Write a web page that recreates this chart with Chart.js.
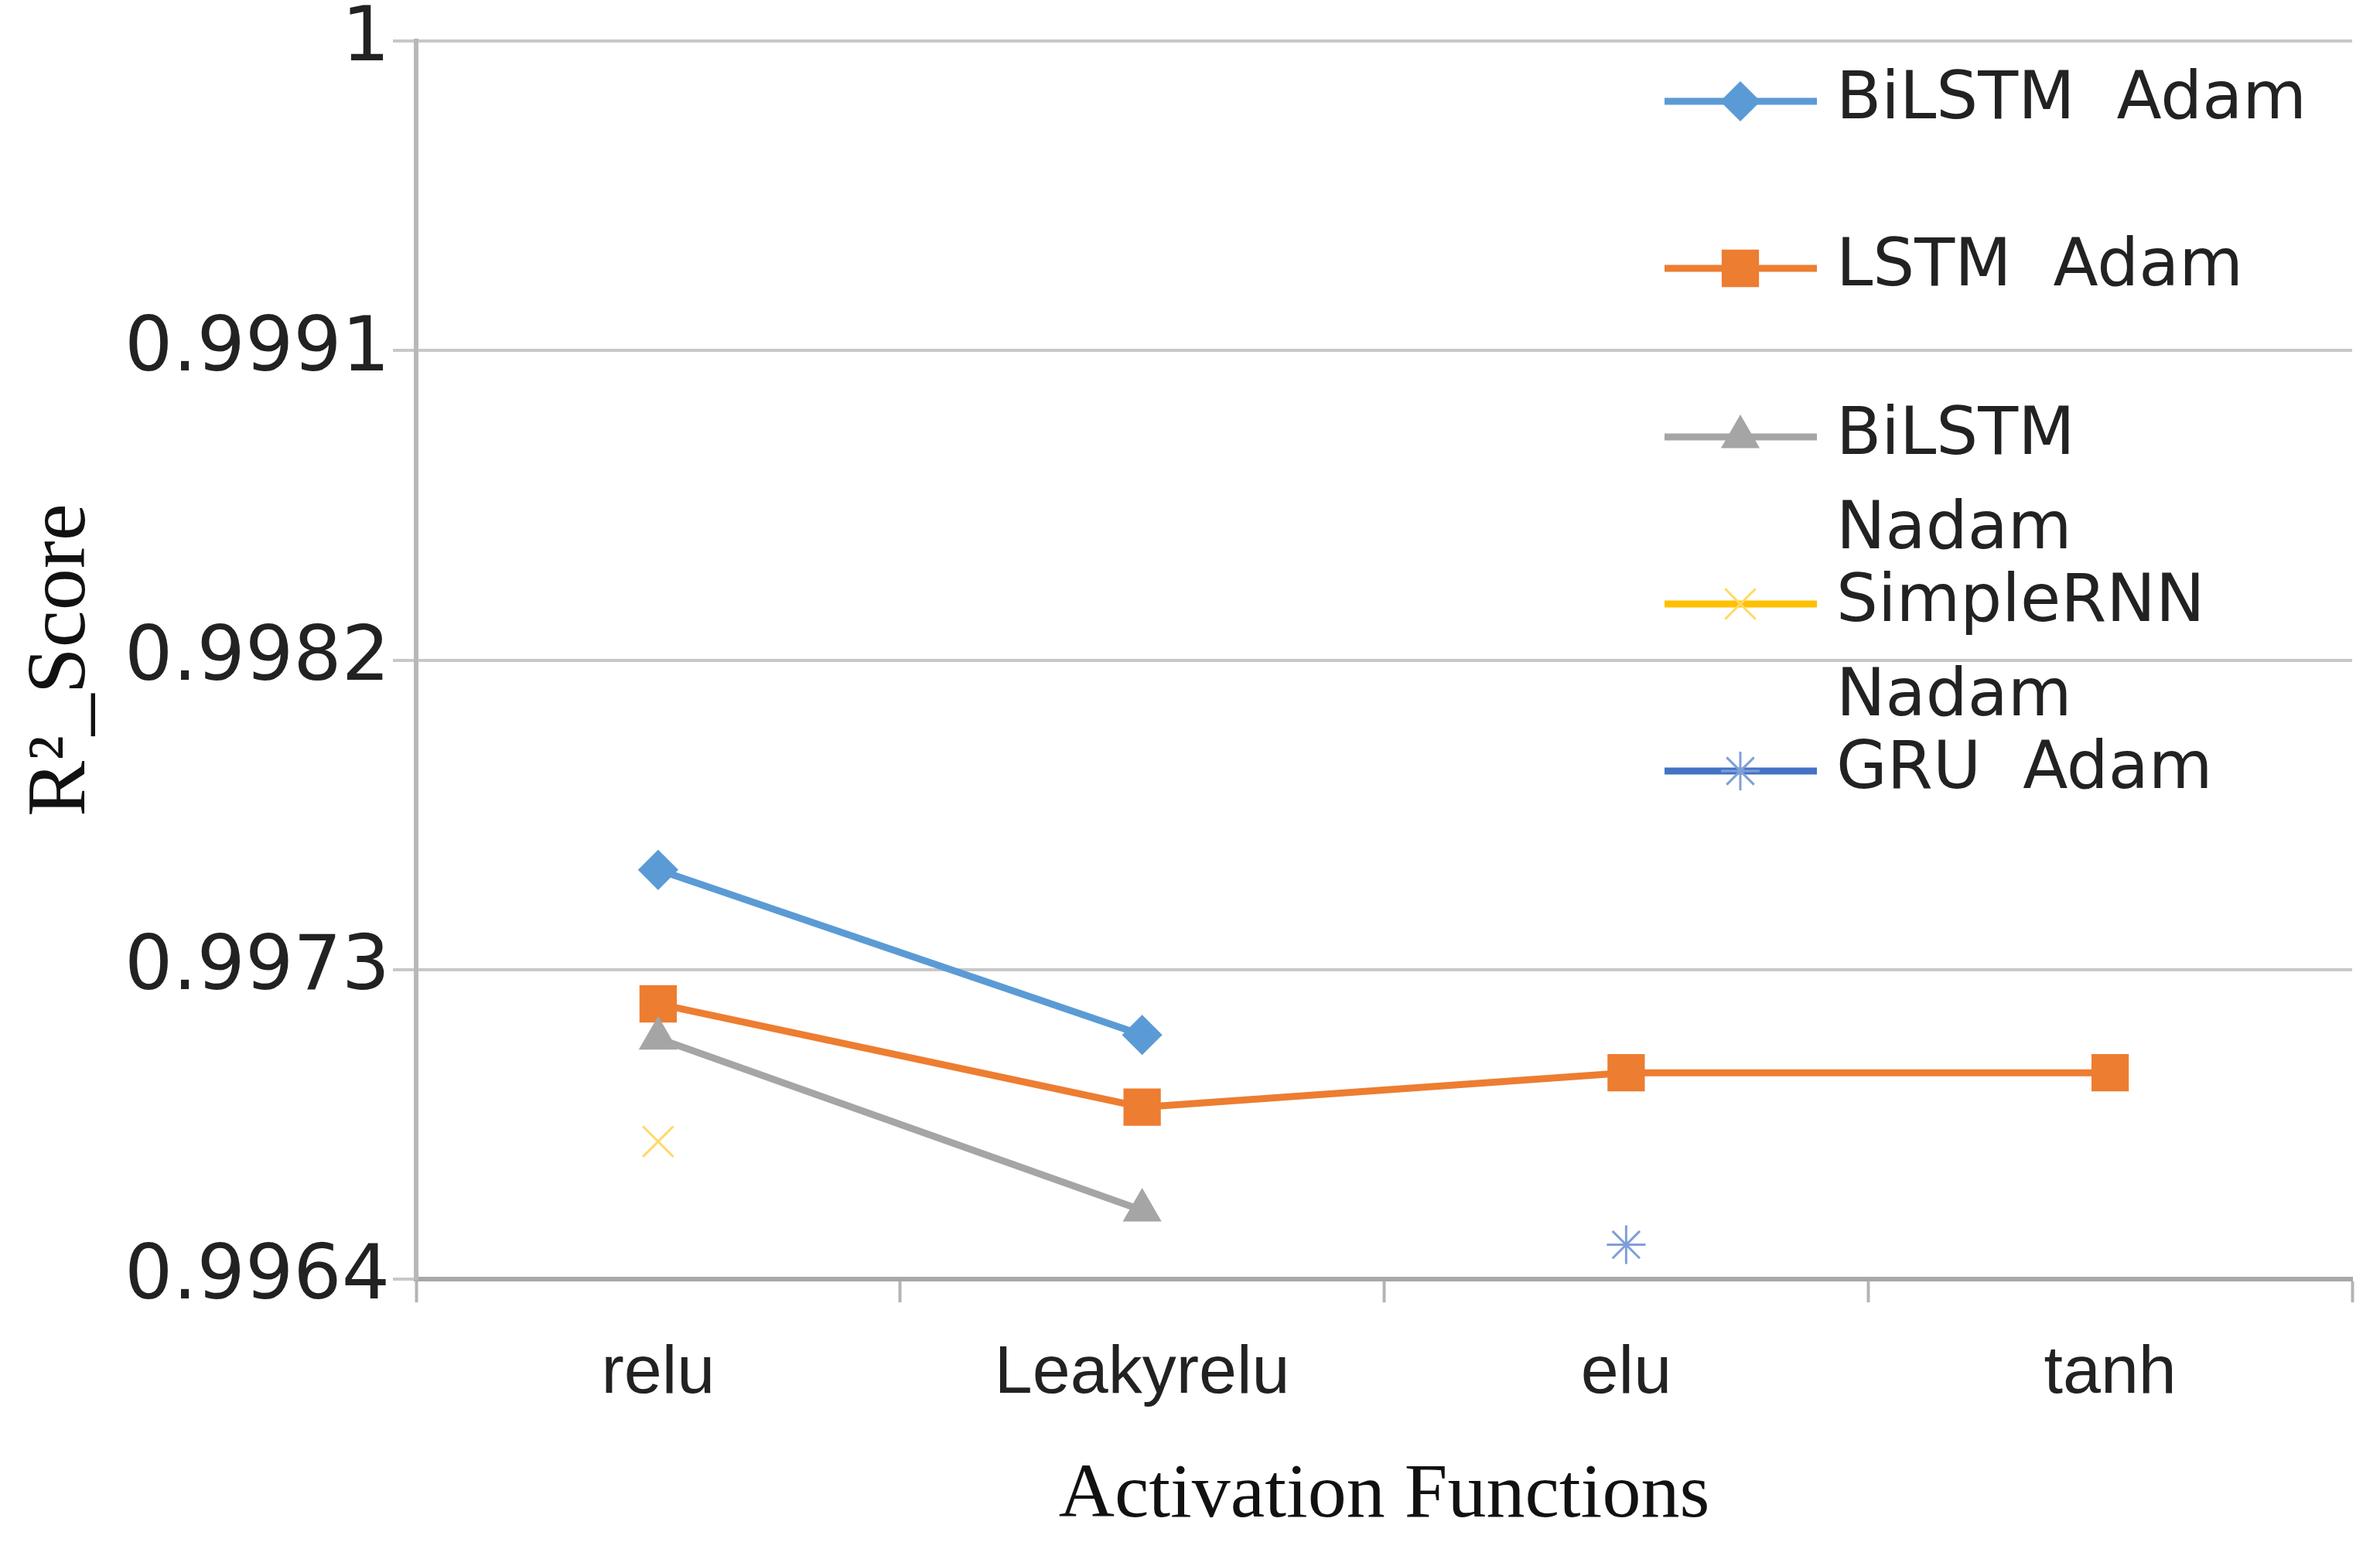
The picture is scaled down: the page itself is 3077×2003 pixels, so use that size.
<!DOCTYPE html>
<html>
<head>
<meta charset="utf-8">
<script src="https://cdn.jsdelivr.net/npm/chart.js@4.4.0/dist/chart.umd.min.js"></script>
<style>
  html, body { margin: 0; padding: 0; background: #fff; }
  #wrap { width: 3077px; height: 2003px; }
</style>
</head>
<body>
<div id="wrap"><canvas id="myChart" width="3077" height="2003"></canvas></div>
<script>
// values
const categories = ['relu', 'Leakyrelu', 'elu', 'tanh'];
const bilstmAdam = [0.99759, 0.99711, null, null];
const lstmAdam = [0.99720, 0.99690, 0.99700, 0.99700];
const bilstmNadam = [0.99710, 0.99660, null, null];
const simpleRnnNadam = [0.99680, null, null, null];
const gruAdam = [null, null, 0.99650, null];
const yTicks = [0.9964, 0.9973, 0.9982, 0.9991, 1];

const seriesNames = ['BiLSTM  Adam', 'LSTM  Adam', 'BiLSTM  Nadam', 'SimpleRNN  Nadam', 'GRU  Adam'];

// legend placement, Excel style (first text line of each entry)
const legendRows = [131, 347, 565, 781, 997];

const legendPlugin = {
  id: 'sideLegend',
  afterDraw(chart) {
    const ctx = chart.ctx;
    ctx.save();
    ctx.font = '85px "DejaVu Sans"';
    ctx.textBaseline = 'middle';
    chart.data.datasets.forEach((ds, i) => {
      const y = legendRows[i];
      ctx.strokeStyle = ds.borderColor;
      ctx.lineWidth = 9;
      ctx.beginPath();
      ctx.moveTo(2152, y);
      ctx.lineTo(2349, y);
      ctx.stroke();
      ctx.fillStyle = ds.pointBackgroundColor;
      ctx.strokeStyle = ds.pointBorderColor;
      ctx.lineWidth = ds.pointBorderWidth;
      Chart.helpers.drawPoint(ctx, {pointStyle: ds.pointStyle, radius: ds.pointRadius, borderWidth: ds.pointBorderWidth}, 2250, y);
      // wrap the text like the original legend box
      const words = ds.label.split(/\s+/);
      const lines = [];
      let cur = '';
      words.forEach(w => {
        const test = cur ? cur + '  ' + w : w;
        if (cur && ctx.measureText(test).width > 630) { lines.push(cur); cur = w; }
        else cur = test;
      });
      lines.push(cur);
      ctx.fillStyle = '#222222';
      lines.forEach((t, k) => ctx.fillText(t, 2374, y + k * 122));
    });
    ctx.restore();
  }
};

function series(label, data, color, style, radius, fill, order) {
  return {
    label: label,
    data: data,
    borderColor: color,
    backgroundColor: color,
    borderWidth: 9,
    pointStyle: style,
    pointRadius: radius,
    pointHoverRadius: radius,
    pointBackgroundColor: fill,
    pointBorderColor: fill,
    pointBorderWidth: 3,
    spanGaps: false,
    order: order
  };
}

const data = {
  labels: categories,
  datasets: [
    series(seriesNames[0], bilstmAdam, '#5B9BD5', 'rectRot', 24, '#5B9BD5', 5),
    series(seriesNames[1], lstmAdam, '#ED7D31', 'rect', 32, '#ED7D31', 4),
    series(seriesNames[2], bilstmNadam, '#A5A5A5', 'triangle', 26, '#A5A5A5', 3),
    series(seriesNames[3], simpleRnnNadam, '#FFC000', 'crossRot', 28, '#FFD966', 2),
    series(seriesNames[4], gruAdam, '#4472C4', 'star', 25, '#7F9FD8', 1)
  ]
};

const config = {
  type: 'line',
  data: data,
  plugins: [legendPlugin],
  options: {
    responsive: false,
    animation: false,
    devicePixelRatio: 1,
    layout: { padding: { left: 0, right: 36, top: 53, bottom: 0 } },
    plugins: {
      legend: { display: false },
      tooltip: { enabled: false }
    },
    scales: {
      x: {
        offset: true,
        afterFit(scale) { scale.height = 349; },
        grid: {
          offset: true,
          drawOnChartArea: false,
          drawTicks: true,
          tickLength: 30,
          tickWidth: 4,
          tickColor: '#b4b4b4'
        },
        border: { display: true, color: '#a8a8a8', width: 6 },
        ticks: {
          padding: 40,
          color: '#222222',
          font: { family: '"Liberation Sans"', size: 88 }
        },
        title: {
          display: true,
          text: 'Activation Functions',
          color: '#111111',
          padding: { top: 0, bottom: 8 },
          font: { family: '"Liberation Serif"', size: 100 }
        }
      },
      y: {
        min: 0.9964,
        max: 1,
        afterFit(scale) { scale.width = 538; },
        afterBuildTicks(scale) { scale.ticks = yTicks.map(v => ({ value: v })); },
        grid: {
          color: '#c8c8c8',
          lineWidth: 4,
          drawTicks: true,
          tickLength: 30,
          tickColor: '#c8c8c8'
        },
        border: { display: true, color: '#b8b8b8', width: 6 },
        ticks: {
          padding: 4,
          color: '#222222',
          font: { family: '"DejaVu Sans"', size: 98, lineHeight: 1 },
          callback: v => (Math.abs(v - 1) < 1e-9 ? '1' : v.toFixed(4))
        },
        title: {
          display: true,
          text: 'R²_Score',
          color: '#111111',
          padding: { top: 16, bottom: 0 },
          font: { family: '"Liberation Serif"', size: 108 }
        }
      }
    }
  }
};

const ctx = document.getElementById('myChart');
const myChart = new Chart(ctx, config);
</script>
</body>
</html>
